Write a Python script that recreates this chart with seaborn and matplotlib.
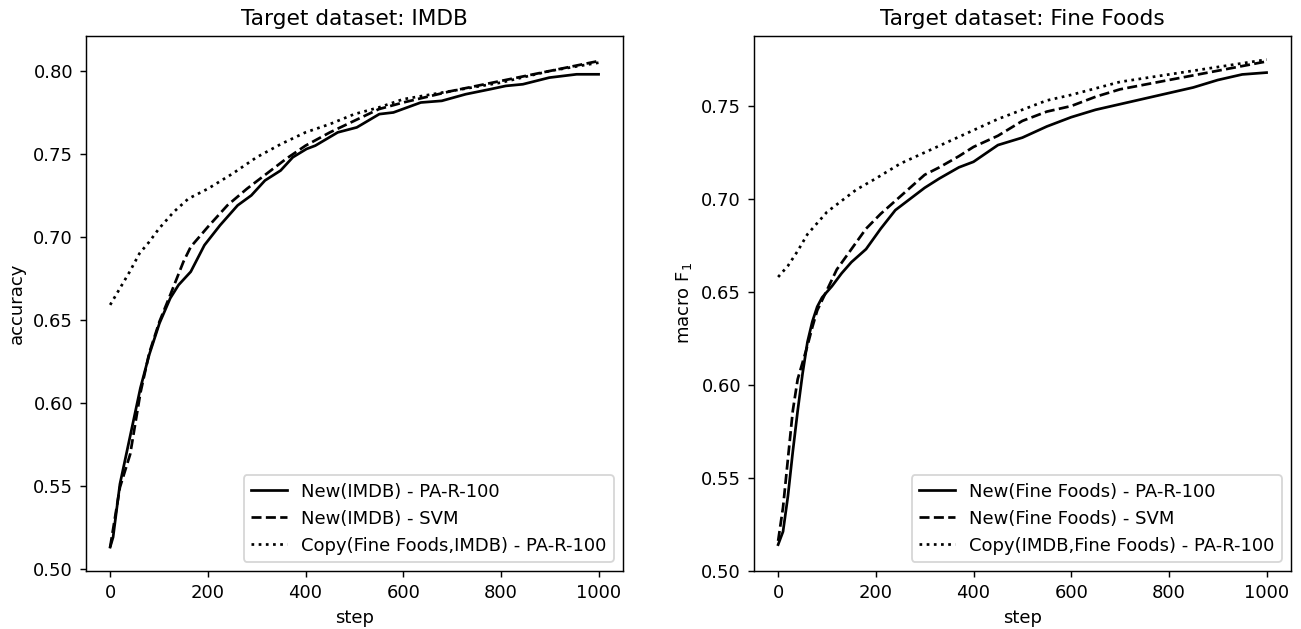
import matplotlib
matplotlib.use("Agg")
import matplotlib.pyplot as plt
import seaborn as sns
import pandas as pd

# ---- IMDB panel ----
imdb_new_pa_x = [0, 6, 20, 41, 62, 80, 101, 123, 140, 165, 193, 225, 261, 289, 317, 349, 374, 402, 420,
                 466, 505, 551, 580, 636, 679, 728, 778, 810, 845, 899, 955, 1000]
imdb_new_pa_y = [0.513, 0.519, 0.551, 0.580, 0.609, 0.629, 0.648, 0.663, 0.671, 0.679, 0.695, 0.707, 0.719,
                 0.725, 0.734, 0.740, 0.748, 0.753, 0.755, 0.763, 0.766, 0.774, 0.775, 0.781, 0.782, 0.786,
                 0.789, 0.791, 0.792, 0.796, 0.798, 0.798]
imdb_new_svm_x = [0, 20, 41, 62, 80, 101, 123, 150, 165, 200, 240, 280, 320, 360, 400, 450, 500, 550, 600,
                  700, 800, 900, 1000]
imdb_new_svm_y = [0.513, 0.549, 0.569, 0.606, 0.630, 0.649, 0.665, 0.685, 0.694, 0.706, 0.719, 0.729, 0.738,
                  0.747, 0.755, 0.763, 0.770, 0.777, 0.781, 0.788, 0.794, 0.800, 0.806]
imdb_copy_x = [0, 20, 40, 60, 80, 100, 130, 160, 200, 250, 300, 350, 400, 450, 500, 550, 600, 700, 800,
               900, 1000]
imdb_copy_y = [0.659, 0.669, 0.679, 0.690, 0.697, 0.705, 0.715, 0.723, 0.729, 0.738, 0.748, 0.756, 0.763,
               0.768, 0.774, 0.778, 0.783, 0.788, 0.793, 0.800, 0.805]

# ---- Fine Foods panel ----
ff_new_pa_x = [0, 10, 20, 30, 40, 50, 60, 70, 80, 90, 110, 130, 150, 180, 210, 240, 270, 300, 330, 370,
               400, 450, 500, 550, 600, 650, 700, 750, 800, 850, 900, 950, 1000]
ff_new_pa_y = [0.514, 0.521, 0.540, 0.564, 0.586, 0.606, 0.623, 0.634, 0.642, 0.647, 0.653, 0.660, 0.666,
               0.673, 0.684, 0.694, 0.700, 0.706, 0.711, 0.717, 0.720, 0.729, 0.733, 0.739, 0.744, 0.748,
               0.751, 0.754, 0.757, 0.760, 0.764, 0.767, 0.768]
ff_new_svm_x = [0, 10, 20, 30, 40, 50, 60, 70, 80, 100, 120, 150, 180, 210, 240, 270, 300, 330, 370, 400,
                450, 500, 550, 600, 650, 700, 800, 900, 1000]
ff_new_svm_y = [0.516, 0.534, 0.560, 0.586, 0.603, 0.612, 0.621, 0.631, 0.640, 0.651, 0.662, 0.673, 0.684,
                0.692, 0.699, 0.706, 0.713, 0.717, 0.723, 0.728, 0.734, 0.742, 0.747, 0.750, 0.755, 0.759,
                0.764, 0.769, 0.774]
ff_copy_x = [0, 20, 40, 60, 80, 100, 130, 160, 200, 250, 300, 350, 400, 450, 500, 550, 600, 700, 800, 900,
             1000]
ff_copy_y = [0.658, 0.664, 0.672, 0.681, 0.687, 0.693, 0.699, 0.705, 0.711, 0.719, 0.725, 0.731, 0.737,
             0.743, 0.748, 0.753, 0.756, 0.763, 0.767, 0.771, 0.775]

titles = ["Target dataset: IMDB", "Target dataset: Fine Foods"]
ylabels = ["accuracy", "macro F$_1$"]
xlabel = "step"
labels_imdb = ["New(IMDB) - PA-R-100", "New(IMDB) - SVM", "Copy(Fine Foods,IMDB) - PA-R-100"]
labels_ff = ["New(Fine Foods) - PA-R-100", "New(Fine Foods) - SVM", "Copy(IMDB,Fine Foods) - PA-R-100"]

fig, axes = plt.subplots(1, 2, figsize=(1301 / 130, 629 / 130), dpi=130)
fig.subplots_adjust(left=0.0659, right=0.9923, top=0.9428, bottom=0.0922, wspace=0.2433)

panels = [
    [(imdb_new_pa_x, imdb_new_pa_y), (imdb_new_svm_x, imdb_new_svm_y), (imdb_copy_x, imdb_copy_y)],
    [(ff_new_pa_x, ff_new_pa_y), (ff_new_svm_x, ff_new_svm_y), (ff_copy_x, ff_copy_y)],
]
all_labels = [labels_imdb, labels_ff]
styles = ["-", "--", ":"]

for ax, series, labs, title, ylab in zip(axes, panels, all_labels, titles, ylabels):
    for (xs, ys), lab, ls in zip(series, labs, styles):
        df = pd.DataFrame({"step": xs, "val": ys})
        sns.lineplot(data=df, x="step", y="val", ax=ax, color="black", linestyle=ls,
                     linewidth=1.5, label=lab)
    ax.set_title(title)
    ax.set_xlabel(xlabel)
    ax.set_ylabel(ylab)
    ax.set_xticks([0, 200, 400, 600, 800, 1000])
    ax.set_xlim(-50, 1050)
    ax.legend(loc="lower right")

axes[0].set_ylim(0.4986, 0.8211)
axes[1].set_ylim(0.4998, 0.7877)

fig.savefig("out.png", dpi=130)
